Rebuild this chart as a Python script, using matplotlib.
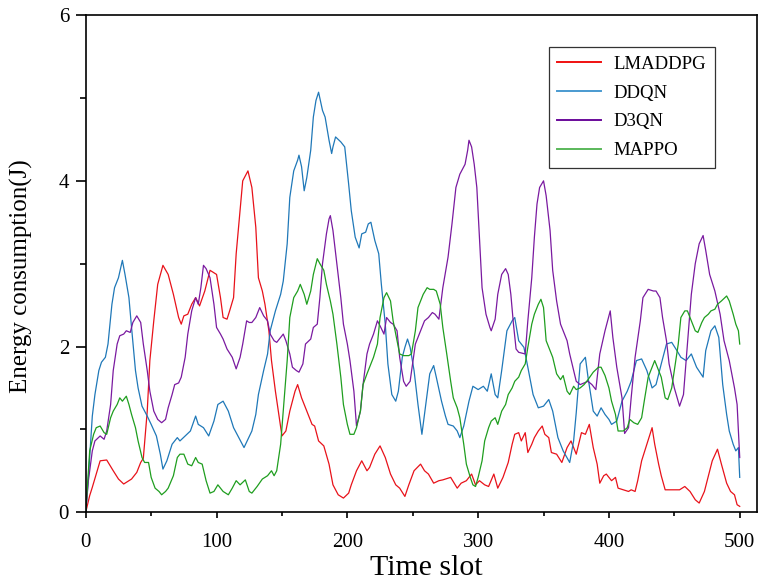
import matplotlib
matplotlib.use('Agg')
import matplotlib.pyplot as plt
from matplotlib.ticker import MultipleLocator

plt.rcParams['font.family'] = ['Liberation Serif', 'DejaVu Serif']

# values (time slot, energy in J)
t_lmaddpg = [0, 3, 5, 11, 16, 21, 25, 29, 35, 39, 42, 44, 47, 49, 52, 55, 59, 63, 67, 71, 73, 75, 78, 81,
             84, 87, 91, 95, 100, 103, 105, 108, 110, 113, 115, 118, 120, 124, 127, 130, 132, 135, 137, 140,
             142, 145, 148, 150, 153, 156, 160, 162, 165, 169, 173, 175, 178, 182, 186, 189, 193, 197, 201,
             203, 207, 211, 215, 217, 221, 225, 229, 233, 237, 240, 244, 247, 251, 256, 259, 262, 266, 270,
             273, 279, 284, 287, 291, 295, 298, 301, 305, 308, 312, 315, 319, 323, 326, 328, 331, 333, 336,
             338, 341, 343, 346, 349, 351, 354, 356, 360, 364, 368, 371, 375, 379, 382, 385, 388, 391, 393,
             396, 398, 402, 405, 407, 411, 415, 417, 420, 422, 425, 429, 433, 435, 438, 440, 443, 446, 450,
             454, 458, 462, 466, 469, 473, 477, 479, 483, 486, 490, 493, 496, 498, 500]
e_lmaddpg = [0.0, 0.2, 0.3, 0.62, 0.63, 0.5, 0.4, 0.34, 0.4, 0.48, 0.6, 0.65, 1.22, 1.83, 2.31, 2.75, 2.98,
             2.87, 2.63, 2.35, 2.27, 2.37, 2.39, 2.51, 2.59, 2.49, 2.67, 2.92, 2.87, 2.59, 2.35, 2.33, 2.43,
             2.59, 3.12, 3.64, 4.0, 4.12, 3.92, 3.44, 2.83, 2.67, 2.51, 2.19, 1.83, 1.46, 1.14, 0.92, 0.98,
             1.22, 1.46, 1.54, 1.38, 1.22, 1.06, 1.04, 0.86, 0.8, 0.58, 0.33, 0.21, 0.17, 0.23, 0.33, 0.5,
             0.62, 0.5, 0.54, 0.7, 0.8, 0.66, 0.46, 0.33, 0.29, 0.19, 0.33, 0.5, 0.58, 0.5, 0.46, 0.35,
             0.38, 0.39, 0.42, 0.29, 0.35, 0.38, 0.46, 0.33, 0.38, 0.33, 0.31, 0.46, 0.29, 0.42, 0.6, 0.82,
             0.94, 0.96, 0.86, 0.96, 0.72, 0.82, 0.9, 0.98, 1.04, 0.94, 0.9, 0.72, 0.7, 0.6, 0.78, 0.86, 0.7,
             0.96, 0.94, 1.06, 0.78, 0.58, 0.35, 0.44, 0.46, 0.38, 0.42, 0.29, 0.27, 0.25, 0.27, 0.25, 0.38,
             0.62, 0.82, 1.02, 0.82, 0.58, 0.44, 0.27, 0.27, 0.27, 0.27, 0.31, 0.25, 0.15, 0.11, 0.25, 0.5,
             0.62, 0.76, 0.58, 0.35, 0.25, 0.21, 0.09, 0.07]

t_ddqn = [0, 2, 5, 7, 10, 12, 15, 17, 20, 22, 25, 28, 30, 33, 35, 38, 40, 43, 47, 50, 54, 57, 59, 62, 66,
          70, 72, 76, 80, 84, 86, 90, 94, 98, 101, 105, 109, 113, 117, 121, 124, 127, 130, 132, 136, 139,
          141, 145, 149, 151, 154, 156, 159, 162, 163, 165, 167, 169, 172, 174, 176, 178, 181, 183, 186,
          188, 189, 191, 195, 198, 201, 203, 206, 209, 211, 214, 216, 218, 221, 224, 226, 229, 231, 234,
          237, 239, 242, 244, 246, 248, 251, 254, 257, 261, 263, 266, 268, 272, 275, 277, 281, 284, 286,
          289, 293, 296, 300, 304, 307, 310, 313, 315, 318, 322, 326, 328, 331, 335, 338, 342, 346, 350,
          354, 357, 361, 365, 370, 373, 375, 378, 382, 384, 388, 391, 394, 397, 400, 402, 406, 410, 414,
          417, 421, 425, 429, 433, 436, 440, 444, 448, 452, 455, 459, 463, 467, 472, 474, 478, 481, 484,
          487, 490, 492, 495, 497, 499, 500]
e_ddqn = [0.0, 0.42, 1.16, 1.42, 1.71, 1.81, 1.87, 2.03, 2.51, 2.71, 2.83, 3.04, 2.87, 2.59, 2.23, 1.71,
          1.5, 1.28, 1.16, 1.06, 0.92, 0.7, 0.52, 0.62, 0.82, 0.9, 0.86, 0.92, 0.98, 1.16, 1.06, 1.02, 0.92,
          1.1, 1.3, 1.34, 1.22, 1.02, 0.9, 0.78, 0.88, 0.98, 1.18, 1.42, 1.71, 1.91, 2.19, 2.43, 2.63, 2.79,
          3.24, 3.8, 4.12, 4.25, 4.31, 4.17, 3.88, 4.04, 4.37, 4.77, 4.97, 5.07, 4.85, 4.77, 4.49, 4.33,
          4.41, 4.53, 4.47, 4.41, 3.96, 3.64, 3.32, 3.19, 3.36, 3.38, 3.48, 3.5, 3.28, 3.12, 2.75, 2.27,
          1.79, 1.42, 1.34, 1.46, 1.87, 1.99, 2.09, 1.99, 1.71, 1.3, 0.94, 1.42, 1.67, 1.77, 1.63, 1.34,
          1.16, 1.06, 1.04, 0.98, 0.9, 1.04, 1.34, 1.52, 1.48, 1.52, 1.46, 1.67, 1.42, 1.38, 1.71, 2.19,
          2.31, 2.35, 2.07, 1.99, 1.75, 1.42, 1.26, 1.28, 1.36, 1.22, 0.9, 0.74, 0.6, 0.86, 1.2, 1.79, 1.87,
          1.63, 1.22, 1.16, 1.26, 1.18, 1.12, 1.06, 1.1, 1.34, 1.46, 1.58, 1.83, 1.85, 1.71, 1.5, 1.54,
          1.79, 2.03, 2.05, 1.95, 1.87, 1.83, 1.91, 1.75, 1.63, 1.95, 2.19, 2.25, 2.11, 1.54, 1.18, 0.98,
          0.82, 0.74, 0.78, 0.42]

t_d3qn = [0, 2, 5, 7, 11, 14, 16, 19, 21, 24, 26, 29, 31, 34, 36, 39, 42, 44, 47, 49, 52, 55, 58, 61, 63,
          66, 68, 71, 73, 76, 78, 81, 84, 86, 88, 90, 92, 95, 98, 100, 103, 105, 108, 112, 115, 118, 120,
          123, 125, 127, 130, 133, 136, 139, 141, 144, 146, 149, 151, 153, 156, 158, 161, 163, 166, 168,
          172, 174, 177, 179, 181, 184, 186, 187, 189, 192, 195, 197, 200, 202, 205, 207, 210, 212, 215,
          217, 220, 223, 225, 228, 230, 233, 235, 238, 240, 243, 245, 248, 252, 256, 259, 262, 265, 267,
          270, 273, 277, 280, 283, 286, 290, 292, 293, 295, 297, 299, 301, 303, 306, 309, 310, 313, 315,
          318, 321, 323, 325, 327, 329, 331, 336, 338, 341, 343, 345, 347, 350, 352, 355, 357, 360, 363,
          365, 368, 370, 373, 375, 378, 381, 384, 387, 390, 393, 397, 401, 403, 406, 410, 412, 415, 417,
          420, 424, 426, 430, 434, 436, 439, 441, 444, 446, 450, 454, 457, 460, 463, 466, 469, 472, 474,
          477, 481, 485, 488, 492, 496, 498, 500]
e_d3qn = [0.0, 0.38, 0.74, 0.86, 0.92, 0.88, 0.98, 1.3, 1.71, 2.03, 2.13, 2.15, 2.19, 2.17, 2.29, 2.37,
          2.29, 2.03, 1.71, 1.46, 1.22, 1.12, 1.08, 1.12, 1.26, 1.42, 1.54, 1.56, 1.63, 1.87, 2.15, 2.43,
          2.59, 2.51, 2.71, 2.98, 2.94, 2.83, 2.51, 2.23, 2.15, 2.09, 1.97, 1.87, 1.73, 1.87, 2.03, 2.31,
          2.29, 2.29, 2.35, 2.47, 2.37, 2.31, 2.15, 2.07, 2.05, 2.11, 2.15, 2.07, 1.91, 1.75, 1.71, 1.69,
          1.79, 2.03, 2.09, 2.23, 2.27, 2.59, 3.0, 3.36, 3.54, 3.58, 3.4, 3.0, 2.59, 2.27, 2.03, 1.83, 1.46,
          1.04, 1.22, 1.54, 1.91, 2.03, 2.15, 2.31, 2.25, 2.15, 2.35, 2.29, 2.27, 2.19, 1.87, 1.58, 1.52,
          1.58, 2.03, 2.19, 2.31, 2.35, 2.41, 2.39, 2.33, 2.71, 3.08, 3.48, 3.92, 4.08, 4.2, 4.37, 4.49,
          4.41, 4.2, 3.92, 3.32, 2.71, 2.39, 2.23, 2.19, 2.33, 2.63, 2.87, 2.94, 2.87, 2.63, 2.27, 1.97,
          1.93, 1.91, 2.31, 2.83, 3.32, 3.72, 3.92, 4.0, 3.82, 3.4, 2.92, 2.55, 2.27, 2.19, 2.07, 1.91,
          1.71, 1.58, 1.54, 1.56, 1.58, 1.54, 1.48, 1.91, 2.19, 2.43, 2.11, 1.75, 1.38, 0.95, 1.02, 1.38,
          1.87, 2.31, 2.59, 2.69, 2.67, 2.67, 2.59, 2.35, 2.07, 1.79, 1.5, 1.28, 1.42, 2.03, 2.63, 3.0,
          3.24, 3.34, 3.16, 2.87, 2.67, 2.39, 2.07, 1.83, 1.5, 1.3, 0.66]

t_mappo = [0, 3, 6, 8, 11, 14, 16, 19, 21, 24, 26, 28, 31, 33, 35, 38, 40, 43, 45, 48, 50, 53, 56, 58, 61,
           63, 67, 70, 72, 75, 78, 81, 84, 86, 89, 92, 95, 98, 101, 105, 109, 112, 115, 118, 122, 125, 127,
           131, 135, 139, 142, 144, 146, 149, 151, 154, 156, 159, 162, 164, 167, 169, 172, 174, 177, 179,
           182, 184, 187, 189, 192, 195, 197, 200, 202, 205, 207, 210, 212, 215, 217, 220, 223, 225, 228,
           230, 233, 235, 238, 240, 243, 247, 249, 252, 254, 256, 258, 261, 263, 266, 268, 271, 273, 276,
           279, 281, 284, 286, 289, 291, 294, 296, 298, 300, 303, 305, 308, 310, 313, 315, 318, 321, 323,
           326, 328, 331, 333, 336, 338, 341, 343, 346, 348, 350, 352, 355, 357, 360, 363, 365, 368, 370,
           373, 375, 378, 381, 384, 388, 392, 394, 397, 400, 402, 405, 407, 411, 414, 416, 419, 422, 425,
           427, 430, 433, 435, 438, 440, 443, 445, 448, 450, 453, 455, 458, 460, 463, 466, 468, 471, 473,
           476, 478, 481, 483, 486, 490, 492, 495, 497, 499, 500]
e_mappo = [0.0, 0.74, 0.94, 1.02, 1.04, 0.96, 0.94, 1.14, 1.22, 1.3, 1.38, 1.34, 1.4, 1.3, 1.18, 1.02,
           0.86, 0.66, 0.6, 0.6, 0.42, 0.29, 0.25, 0.21, 0.25, 0.29, 0.44, 0.66, 0.7, 0.7, 0.58, 0.56, 0.66,
           0.6, 0.58, 0.38, 0.23, 0.25, 0.33, 0.25, 0.21, 0.29, 0.38, 0.33, 0.39, 0.25, 0.23, 0.31, 0.4,
           0.44, 0.5, 0.44, 0.5, 0.82, 1.22, 1.83, 2.35, 2.59, 2.67, 2.75, 2.63, 2.51, 2.67, 2.87, 3.06,
           3.0, 2.92, 2.75, 2.55, 2.39, 2.03, 1.63, 1.3, 1.06, 0.94, 0.94, 1.02, 1.22, 1.54, 1.67, 1.75,
           1.87, 2.03, 2.35, 2.59, 2.65, 2.55, 2.31, 2.07, 1.91, 1.89, 1.89, 1.91, 2.19, 2.47, 2.55, 2.63,
           2.71, 2.69, 2.69, 2.67, 2.51, 2.23, 1.91, 1.58, 1.38, 1.26, 1.14, 0.82, 0.58, 0.42, 0.33, 0.31,
           0.42, 0.62, 0.86, 1.02, 1.1, 1.14, 1.06, 1.22, 1.3, 1.42, 1.5, 1.58, 1.63, 1.71, 1.79, 1.99,
           2.27, 2.39, 2.51, 2.57, 2.47, 2.07, 1.95, 1.87, 1.67, 1.6, 1.65, 1.46, 1.42, 1.52, 1.48, 1.5,
           1.54, 1.6, 1.69, 1.75, 1.75, 1.65, 1.5, 1.34, 1.18, 0.98, 0.98, 1.02, 1.12, 1.08, 1.06, 1.14,
           1.34, 1.63, 1.75, 1.83, 1.71, 1.63, 1.38, 1.36, 1.5, 1.71, 2.03, 2.35, 2.43, 2.43, 2.31, 2.19,
           2.17, 2.29, 2.35, 2.39, 2.43, 2.45, 2.51, 2.55, 2.61, 2.55, 2.39, 2.27, 2.19, 2.03]

labels = ['LMADDPG', 'DDQN', 'D3QN', 'MAPPO']
colors = ['#e8121a', '#1f78b8', '#7a1aa0', '#1f9e1f']
legend_colors = ['#f01010', '#4a9ad0', '#6a0a9a', '#5ab85a']

fig = plt.figure(figsize=(7.59, 5.84), dpi=100)
ax = fig.add_axes([0.113, 0.123, 0.884, 0.851])

series = [(t_lmaddpg, e_lmaddpg), (t_ddqn, e_ddqn), (t_d3qn, e_d3qn), (t_mappo, e_mappo)]
for i, (t, e) in enumerate(series):
    ax.plot(t, e, color=colors[i], lw=0.9, label=labels[i])

ax.set_xlim(0, 513)
ax.set_ylim(0, 6)
ax.xaxis.set_major_locator(MultipleLocator(100))
ax.xaxis.set_minor_locator(MultipleLocator(50))
ax.yaxis.set_major_locator(MultipleLocator(2))
ax.yaxis.set_minor_locator(MultipleLocator(1))
ax.tick_params(which='both', direction='out', width=1.2, labelsize=15)
ax.tick_params(axis='x', which='major', length=4, pad=11)
ax.tick_params(axis='x', which='minor', length=2.8)
ax.tick_params(axis='y', which='major', length=7, pad=5)
ax.tick_params(axis='y', which='minor', length=4)
for s in ax.spines.values():
    s.set_linewidth(1.2)

ax.set_xlabel('Time slot', fontsize=21.5)
ax.xaxis.set_label_coords(0.507, -0.087)
ax.set_ylabel('Energy consumption(J)', fontsize=18)
ax.yaxis.set_label_coords(-0.079, 0.475)

leg = ax.legend(loc='upper right', bbox_to_anchor=(0.9375, 0.9356), borderaxespad=0,
                fontsize=13.5, frameon=True, fancybox=False, edgecolor='black',
                handlelength=2.3, handletextpad=0.69, labelspacing=0.62,
                borderpad=0.46)
leg.get_frame().set_linewidth(0.9)
for h, c in zip(leg.get_lines(), legend_colors):
    h.set_color(c)
    h.set_linewidth(1.4)

fig.savefig('out.png', dpi=100)
